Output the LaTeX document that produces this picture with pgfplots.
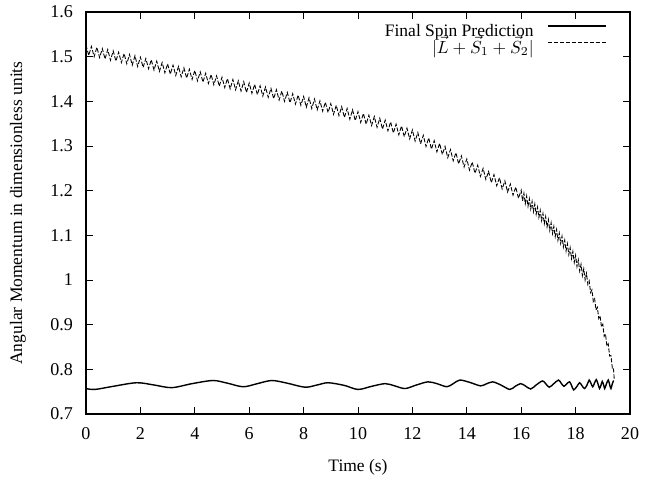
\documentclass[border=0pt]{standalone}
\usepackage{fontspec}
\setmainfont{Liberation Serif}
\usepackage{amsmath}
\usepackage{pgfplots}
\pgfplotsset{compat=1.18}
\begin{document}
\begin{tikzpicture}
\useasboundingbox (0,0) rectangle (369.14pt,273.71pt);
\begin{axis}[
 at={(49.14pt,37.14pt)}, anchor=south west,
 scale only axis, width=310.86pt, height=229.71pt,
 xmin=0, xmax=20, ymin=0.7, ymax=1.6,
 xtick={0,2,4,6,8,10,12,14,16,18,20},
 ytick={0.7,0.8,0.9,1,1.1,1.2,1.3,1.4,1.5,1.6},
 tick align=inside, major tick length=4pt,
 axis line style={line width=0.7pt},
 tick style={line width=0.5pt, black},
 /pgf/number format/assume math mode=true,
 ticklabel style={font=\fontsize{10.3}{12}\selectfont},
 x tick label style={yshift=-4pt},
 y tick label style={xshift=-4pt},
 xlabel={Time (s)},
 ylabel={Angular Momentum in dimensionless units},
 label style={font=\fontsize{10}{12}\selectfont},
 x label style={at={(axis description cs:0.5,-0.132)}, anchor=center},
 y label style={at={(axis description cs:-0.125,0.5)}, anchor=center},
 legend style={at={(axis description cs:0.967,0.985)}, anchor=north east,
   draw=none, fill=none, legend cell align=right,
   font=\fontsize{10}{12}\selectfont,
   nodes={inner sep=0.8pt, text height=7.4pt, text depth=0.6pt},
   /tikz/every odd column/.append style={column sep=7pt}},
 legend plot pos=right,
 legend image code/.code={\draw[#1] (0pt,2.5pt) -- (33pt,2.5pt);},
]
\addplot[black, line width=0.8pt, smooth] coordinates {
(0,0.757) (0.33,0.755) (1.0,0.762) (1.86,0.770) (2.5,0.765) (3.15,0.759)
(3.9,0.768) (4.67,0.775) (5.2,0.769) (5.78,0.761) (6.3,0.768) (6.83,0.775)
(7.4,0.769) (8.05,0.760) (8.5,0.765) (8.9,0.770) (9.5,0.764) (10.0,0.755)
(10.5,0.762) (11.0,0.768) (11.35,0.763) (11.73,0.757) (12.15,0.765) (12.57,0.772)
(12.9,0.768) (13.27,0.761) (13.5,0.768) (13.74,0.776) (14.1,0.771) (14.5,0.763)
(14.7,0.767) (14.95,0.772) (15.25,0.765) (15.58,0.755) (15.78,0.762) (15.98,0.768)
(16.15,0.763) (16.35,0.756) (16.55,0.765) (16.78,0.774) (16.9,0.768) (17.03,0.760)
(17.2,0.768) (17.37,0.776) (17.47,0.769) (17.57,0.762) (17.68,0.768) (17.78,0.772)
(17.85,0.764) (17.93,0.754) (18.05,0.762) (18.15,0.770) (18.25,0.762) (18.33,0.757)
(18.42,0.765) (18.5,0.776) (18.57,0.768) (18.63,0.761) (18.7,0.770) (18.76,0.777)
(18.82,0.768) (18.88,0.757) (18.93,0.764) (18.98,0.773) (19.03,0.765) (19.07,0.757)
(19.13,0.767) (19.2,0.776) (19.25,0.766) (19.3,0.757) (19.35,0.768) (19.4,0.775)
};
\addlegendentry{Final Spin Prediction}
\addplot[black, line width=0.5pt, dash pattern=on 2.4pt off 1pt] coordinates {
(0.0,1.526) (0.1,1.503) (0.2,1.523) (0.3,1.500) (0.4,1.521) (0.5,1.498)
(0.6,1.518) (0.7,1.495) (0.8,1.516) (0.9,1.492) (1.0,1.513)
(1.1,1.490) (1.2,1.510) (1.3,1.487) (1.4,1.507) (1.5,1.484)
(1.6,1.505) (1.7,1.481) (1.8,1.502) (1.9,1.478) (2.0,1.499)
(2.1,1.476) (2.2,1.496) (2.3,1.473) (2.4,1.493) (2.5,1.470)
(2.6,1.490) (2.7,1.467) (2.8,1.487) (2.9,1.464) (3.0,1.484)
(3.1,1.461) (3.2,1.481) (3.3,1.458) (3.4,1.478) (3.5,1.455)
(3.6,1.475) (3.7,1.452) (3.8,1.472) (3.9,1.449) (4.0,1.469)
(4.1,1.446) (4.2,1.466) (4.3,1.443) (4.4,1.463) (4.5,1.440)
(4.6,1.460) (4.7,1.437) (4.8,1.457) (4.9,1.434) (5.0,1.454)
(5.1,1.431) (5.2,1.451) (5.3,1.428) (5.4,1.449) (5.5,1.426)
(5.6,1.446) (5.7,1.423) (5.8,1.444) (5.9,1.420) (6.0,1.441)
(6.1,1.418) (6.2,1.438) (6.3,1.415) (6.4,1.435) (6.5,1.412)
(6.6,1.432) (6.7,1.409) (6.8,1.429) (6.9,1.406) (7.0,1.426)
(7.1,1.403) (7.2,1.423) (7.3,1.400) (7.4,1.420) (7.5,1.397)
(7.6,1.417) (7.7,1.394) (7.8,1.414) (7.9,1.391) (8.0,1.411)
(8.1,1.387) (8.2,1.408) (8.3,1.384) (8.4,1.405) (8.5,1.381)
(8.6,1.401) (8.7,1.378) (8.8,1.398) (8.9,1.375) (9.0,1.395)
(9.1,1.371) (9.2,1.391) (9.3,1.368) (9.4,1.388) (9.5,1.364)
(9.6,1.384) (9.7,1.360) (9.8,1.381) (9.9,1.357) (10.0,1.377)
(10.1,1.353) (10.2,1.373) (10.3,1.349) (10.4,1.369) (10.5,1.346)
(10.6,1.366) (10.7,1.342) (10.8,1.362) (10.9,1.338) (11.0,1.358)
(11.1,1.334) (11.2,1.354) (11.3,1.329) (11.4,1.349) (11.5,1.325)
(11.6,1.345) (11.7,1.321) (11.8,1.340) (11.9,1.316) (12.0,1.336)
(12.1,1.311) (12.2,1.330) (12.3,1.305) (12.4,1.324) (12.5,1.299)
(12.6,1.318) (12.7,1.293) (12.8,1.312) (12.9,1.287) (13.0,1.306)
(13.1,1.281) (13.2,1.299) (13.3,1.274) (13.4,1.292) (13.5,1.267)
(13.6,1.285) (13.7,1.260) (13.8,1.278) (13.9,1.253) (14.0,1.271)
(14.1,1.246) (14.2,1.264) (14.3,1.239) (14.4,1.257) (14.5,1.232)
(14.6,1.250) (14.7,1.225) (14.8,1.243) (14.9,1.218) (15.0,1.236)
(15.1,1.211) (15.2,1.229) (15.3,1.204) (15.4,1.222) (15.5,1.197)
(15.6,1.215) (15.7,1.190) (15.8,1.208) (15.9,1.183) (16.0,1.201)
(16.05,1.177) (16.10,1.194) (16.15,1.171) (16.20,1.188) (16.25,1.165)
(16.30,1.182) (16.35,1.159) (16.40,1.176) (16.45,1.153) (16.50,1.170)
(16.55,1.147) (16.60,1.163) (16.65,1.140) (16.70,1.156) (16.75,1.133)
(16.80,1.149) (16.85,1.126) (16.90,1.142) (16.95,1.119) (17.00,1.135)
(17.05,1.111) (17.10,1.128) (17.15,1.104) (17.20,1.120) (17.25,1.097)
(17.30,1.113) (17.35,1.089) (17.40,1.105) (17.45,1.082) (17.50,1.098)
(17.55,1.074) (17.60,1.089) (17.65,1.065) (17.70,1.081) (17.75,1.057)
(17.80,1.072) (17.85,1.048) (17.90,1.064) (17.95,1.039) (18.00,1.055)
(18.05,1.030) (18.10,1.045) (18.15,1.020) (18.20,1.035) (18.25,1.010)
(18.30,1.025) (18.35,1.000) (18.40,1.015) (18.45,0.990) (18.50,0.998)
(18.55,0.972) (18.60,0.978) (18.65,0.952) (18.70,0.958) (18.75,0.933)
(18.80,0.939) (18.85,0.914) (18.90,0.920) (18.95,0.895) (19.00,0.901)
(19.05,0.874) (19.10,0.879) (19.15,0.852) (19.20,0.857) (19.25,0.830)
(19.30,0.831) (19.35,0.803) (19.39,0.804) (19.42,0.778)
};
\addlegendentry{$|\vec{L} + \vec{S}_{1} + \vec{S}_{2}|$}
\end{axis}
\end{tikzpicture}
\end{document}
